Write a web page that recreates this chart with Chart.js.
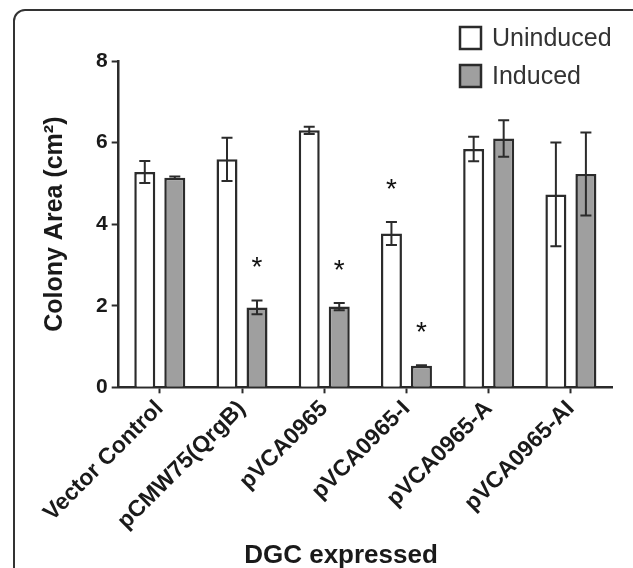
<!DOCTYPE html>
<html>
<head>
<meta charset="utf-8">
<script src="https://cdn.jsdelivr.net/npm/chart.js@4"></script>
<style>
  html, body { margin: 0; padding: 0; background: #fff; overflow: hidden; }
  body { width: 633px; height: 568px; position: relative; }
  .frame {
    position: absolute; left: 13px; top: 9px; width: 640px; height: 590px;
    border: 2px solid #333; border-radius: 12px;
  }
  .chartBox { position: absolute; left: 0; top: 0; width: 682px; height: 568px; }
</style>
</head>
<body>
<div class="frame"></div>
<div class="chartBox"><canvas id="barChart"></canvas></div>
<script>
const categories = [
  "Vector Control",
  "pCMW75(QrgB)",
  "pVCA0965",
  "pVCA0965-I",
  "pVCA0965-A",
  "pVCA0965-AI"
];
const uninduced = [5.28, 5.59, 6.3, 3.77, 5.84, 4.73];
const uninducedErr = [0.27, 0.53, 0.09, 0.28, 0.3, 1.27];
const induced = [5.14, 1.96, 1.98, 0.53, 6.1, 5.23];
const inducedErr = [0.03, 0.17, 0.09, 0.01, 0.45, 1.02];
// significance stars
const uninducedSig = [false, false, false, true, false, false];
const inducedSig = [false, true, true, true, false, false];
const yTicks = [0, 2, 4, 6, 8];

const font = "'Liberation Sans', Arial, Helvetica, sans-serif";
const dark = "#2b2b2b";

// error bars + stars drawn from the scales
const errorBars = {
  id: "errorBars",
  afterDatasetsDraw(chart) {
    const ctx = chart.ctx;
    const y = chart.scales.y;
    const errs = [uninducedErr, inducedErr];
    const sigs = [uninducedSig, inducedSig];
    ctx.save();
    ctx.strokeStyle = dark;
    ctx.lineWidth = 2;
    chart.data.datasets.forEach((ds, di) => {
      const meta = chart.getDatasetMeta(di);
      meta.data.forEach((bar, i) => {
        const v = ds.data[i];
        const top = y.getPixelForValue(v + errs[di][i]);
        const bot = y.getPixelForValue(v - errs[di][i]);
        const cap = 5.5;
        ctx.beginPath();
        ctx.moveTo(bar.x, top);
        ctx.lineTo(bar.x, bot);
        ctx.moveTo(bar.x - cap, top);
        ctx.lineTo(bar.x + cap, top);
        ctx.moveTo(bar.x - cap, bot);
        ctx.lineTo(bar.x + cap, bot);
        ctx.stroke();
        if (sigs[di][i]) {
          ctx.fillStyle = "#111";
          ctx.font = "28px " + font;
          ctx.textAlign = "center";
          ctx.textBaseline = "alphabetic";
          ctx.fillText("*", bar.x, top - 40 + 16);
        }
      });
    });
    ctx.restore();
  }
};

// legend in the upper right corner of the plot, x title centred on the figure
const extras = {
  id: "extras",
  afterDraw(chart) {
    const ctx = chart.ctx;
    const left = chart.chartArea.right - 152;
    ctx.save();
    chart.data.datasets.forEach((ds, i) => {
      const top = 27 + i * 38;
      ctx.fillStyle = ds.backgroundColor;
      ctx.fillRect(left, top, 21, 22);
      ctx.strokeStyle = dark;
      ctx.lineWidth = 2.5;
      ctx.strokeRect(left, top, 21, 22);
      ctx.fillStyle = "#333";
      ctx.font = "25px " + font;
      ctx.textAlign = "left";
      ctx.textBaseline = "middle";
      ctx.fillText(ds.label, left + 32, top + 12);
    });
    ctx.fillStyle = "#1a1a1a";
    ctx.font = "bold 26px " + font;
    ctx.textAlign = "center";
    ctx.textBaseline = "alphabetic";
    ctx.fillText("DGC expressed", chart.width / 2, chart.height - 5);
    ctx.restore();
  }
};

const data = {
  labels: categories,
  datasets: [
    {
      label: "Uninduced",
      data: uninduced,
      backgroundColor: "#ffffff",
      borderColor: dark,
      borderWidth: 2.5,
      categoryPercentage: 0.73,
      barPercentage: 0.7
    },
    {
      label: "Induced",
      data: induced,
      backgroundColor: "#9f9f9f",
      borderColor: dark,
      borderWidth: 2.5,
      categoryPercentage: 0.73,
      barPercentage: 0.7
    }
  ]
};

const config = {
  type: "bar",
  data: data,
  options: {
    responsive: true,
    maintainAspectRatio: false,
    animation: false,
    layout: { padding: { left: 30, right: 70, top: 61, bottom: 31 } },
    plugins: {
      legend: { display: false },
      tooltip: { enabled: false }
    },
    scales: {
      x: {
        grid: {
          offset: false,
          drawOnChartArea: false,
          drawTicks: true,
          tickLength: 6,
          tickWidth: 2,
          color: dark
        },
        border: { display: true, width: 2.5, color: dark },
        ticks: {
          minRotation: 45,
          maxRotation: 45,
          padding: 2,
          color: "#1a1a1a",
          font: { family: font, size: 23, weight: "bold" }
        }
      },
      y: {
        min: 0,
        max: 8,
        afterBuildTicks: (scale) => {
          scale.ticks = yTicks.map((v) => ({ value: v }));
        },
        grid: {
          drawOnChartArea: false,
          drawTicks: true,
          tickLength: 7,
          tickWidth: 2,
          color: dark
        },
        border: { display: true, width: 2.5, color: dark },
        ticks: {
          padding: 4,
          color: "#1a1a1a",
          font: { family: font, size: 21, weight: "bold" }
        },
        title: {
          display: true,
          text: "Colony Area (cm\u00b2)",
          color: "#1a1a1a",
          font: { family: font, size: 25, weight: "bold" },
          padding: { top: 10, bottom: 22 }
        }
      }
    }
  },
  plugins: [errorBars, extras]
};

const chart = new Chart(document.getElementById("barChart"), config);
</script>
</body>
</html>
